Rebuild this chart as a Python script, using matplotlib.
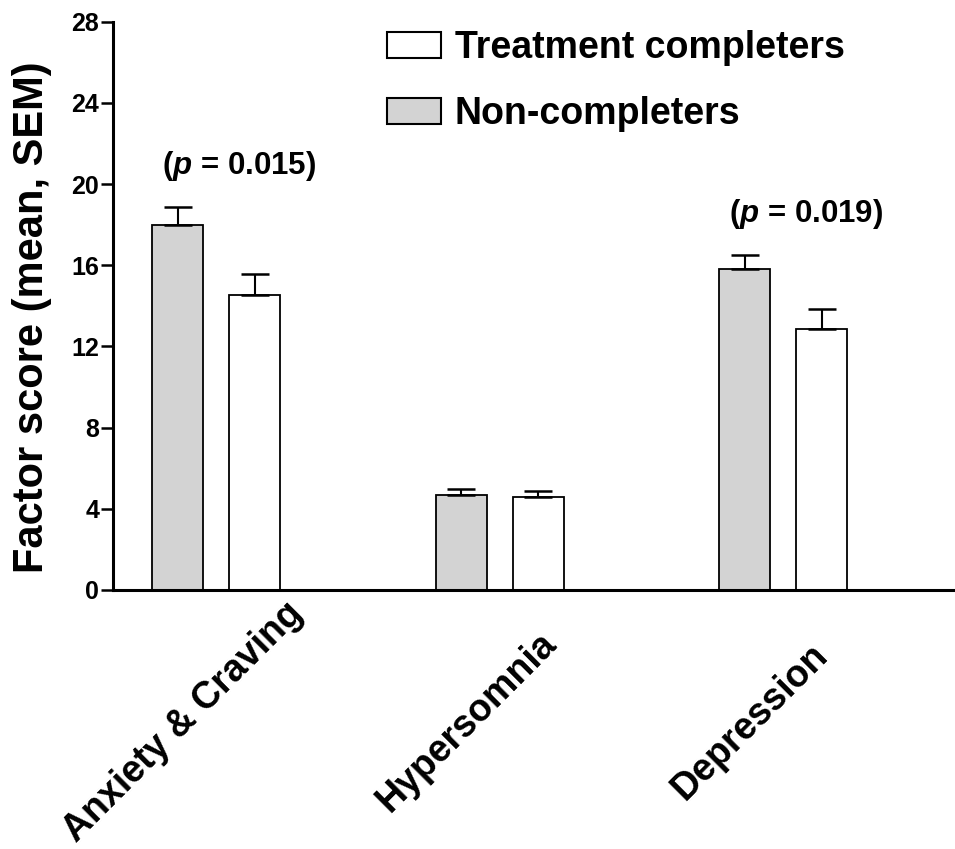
import numpy as np
import matplotlib
matplotlib.use('Agg')
import matplotlib.pyplot as plt
from matplotlib.patches import Patch
from matplotlib.transforms import ScaledTranslation

plt.rcParams['font.family'] = ['Liberation Sans', 'DejaVu Sans']
plt.rcParams['font.weight'] = 'bold'
plt.rcParams['mathtext.fontset'] = 'custom'
plt.rcParams['mathtext.it'] = 'Liberation Sans:bold:italic'
plt.rcParams['mathtext.rm'] = 'Liberation Sans:bold'

categories = ['Anxiety & Craving', 'Hypersomnia', 'Depression']
non_completers = [18.0, 4.7, 15.8]
non_completers_sem = [0.85, 0.28, 0.68]
completers = [14.55, 4.6, 12.85]
completers_sem = [1.0, 0.28, 1.0]
p_labels = {0: '0.015', 2: '0.019'}
y_ticks = [0, 4, 8, 12, 16, 20, 24, 28]

fig = plt.figure(figsize=(9.55, 8.49), dpi=100)
ax = fig.add_axes([0.1183, 0.3051, 0.8817, 0.6694])

x = np.arange(len(categories))
off = 0.136
w = 0.18

ax.bar(x - off, non_completers, w, color='#d3d3d3', edgecolor='black', linewidth=1.3, zorder=2)
ax.bar(x + off, completers, w, color='white', edgecolor='black', linewidth=1.3, zorder=2)
ax.errorbar(x - off, non_completers, yerr=[np.zeros(3), non_completers_sem], fmt='none',
            ecolor='black', elinewidth=1.5, capsize=10, capthick=1.8, zorder=3)
ax.errorbar(x + off, completers, yerr=[np.zeros(3), completers_sem], fmt='none',
            ecolor='black', elinewidth=1.5, capsize=10, capthick=1.8, zorder=3)

# p-values above the first bar pair
for i, p in p_labels.items():
    ytop = non_completers[i] + non_completers_sem[i]
    ax.text(x[i] + 0.08, ytop + 2.05, r'($\mathit{p}$ = ' + p + ')', fontsize=22.5,
            fontweight='bold', ha='center', va='center')

ax.set_ylim(0, 28)
ax.set_xlim(-0.364, 2.606)
ax.set_yticks(y_ticks)
ax.tick_params(axis='y', labelsize=18, length=9, width=1.8, direction='out', pad=1)
ax.set_xticks([])
for s in ['top', 'right']:
    ax.spines[s].set_visible(False)
for s in ['left', 'bottom']:
    ax.spines[s].set_linewidth(2.2)

ax.set_ylabel('Factor score (mean, SEM)', fontsize=30, fontweight='bold')
ax.yaxis.set_label_coords(-0.072, 0.48)

# category labels, rotated
tr = ax.get_xaxis_transform() + ScaledTranslation(-0.33, -1.32, fig.dpi_scale_trans)
for xi, lab in zip(x, categories):
    ax.text(xi, 0, lab, transform=tr, rotation=45, rotation_mode='anchor',
            ha='center', va='center', fontsize=27, fontweight='bold')

handles = [Patch(facecolor='white', edgecolor='black', linewidth=1.5),
           Patch(facecolor='#d3d3d3', edgecolor='black', linewidth=1.5)]
ax.legend(handles, ['Treatment completers', 'Non-completers'], loc='upper left',
          bbox_to_anchor=(387 / 955, 1 - 30 / 849), bbox_transform=fig.transFigure,
          frameon=False, handlelength=1.45, handleheight=0.68,
          handletextpad=0.35, labelspacing=0.8, borderpad=0, borderaxespad=0,
          prop={'weight': 'bold', 'size': 27})

fig.savefig('out.png', dpi=100)
